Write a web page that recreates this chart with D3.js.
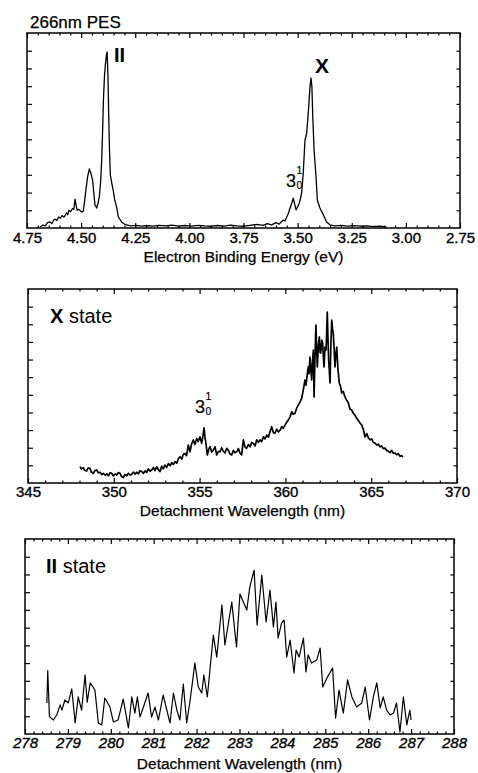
<!DOCTYPE html>
<html>
<head>
<meta charset="utf-8">
<script src="https://cdn.jsdelivr.net/npm/d3@7"></script>
<style>
body { margin: 0; background: #fff; }
svg { display: block; font-family: "Liberation Sans", Arial, Helvetica, sans-serif; }
</style>
</head>
<body>
<svg id="fig" width="478" height="773"></svg>
<script>
// --- data (intensity in arbitrary units, 0..11 = frame height) ---
const pesEnergy = [4.690, 4.676, 4.665, 4.655, 4.644, 4.635, 4.627, 4.620, 4.612, 4.604, 4.596, 4.588, 4.580, 4.575,
  4.568, 4.562, 4.556, 4.548, 4.540, 4.534, 4.528, 4.522, 4.518, 4.510, 4.502, 4.496, 4.490, 4.484, 4.478, 4.470,
  4.462, 4.455, 4.447, 4.440, 4.436, 4.428, 4.422, 4.416, 4.410, 4.405, 4.401, 4.397, 4.392, 4.388, 4.383, 4.380,
  4.376, 4.373, 4.369, 4.365, 4.358, 4.352, 4.345, 4.336, 4.328, 4.313, 4.300, 4.290,
  4.27, 4.25, 4.22, 4.20, 4.17, 4.14, 4.11, 4.08, 4.05, 4.02, 3.99, 3.96, 3.93, 3.90, 3.87, 3.84, 3.81, 3.78, 3.75,
  3.72, 3.69, 3.66, 3.64, 3.62, 3.60, 3.585, 3.575, 3.566, 3.558, 3.550, 3.542, 3.535, 3.527, 3.520, 3.513, 3.507,
  3.500, 3.492, 3.486, 3.481, 3.474, 3.466, 3.458, 3.450, 3.443, 3.438, 3.434, 3.430, 3.427, 3.424, 3.415, 3.409,
  3.397, 3.381, 3.366, 3.350, 3.33, 3.30, 3.27, 3.24, 3.21, 3.18, 3.15, 3.12, 3.09];
const pesSignal = [0.06, 0.17, 0.12, 0.30, 0.34, 0.25, 0.45, 0.50, 0.42, 0.62, 0.55, 0.70, 0.62, 0.68,
  0.85, 0.75, 1.00, 0.92, 1.10, 1.05, 1.63, 1.20, 1.00, 1.05, 0.95, 0.90, 0.96, 1.50, 2.14, 2.90,
  3.33, 3.10, 2.70, 1.80, 1.30, 1.13, 1.40, 1.75, 2.60, 3.83, 5.36, 7.22, 8.60, 9.20, 9.76, 9.93,
  8.60, 6.60, 4.40, 2.99, 2.50, 2.14, 1.60, 1.18, 0.62, 0.34, 0.22, 0.17,
  0.12, 0.15, 0.10, 0.14, 0.10, 0.15, 0.12, 0.16, 0.11, 0.14, 0.10, 0.15, 0.12, 0.10, 0.14, 0.11, 0.16, 0.12, 0.10,
  0.15, 0.20, 0.15, 0.25, 0.18, 0.30, 0.22, 0.35, 0.45, 0.40, 0.62, 0.85, 1.13, 1.40, 1.69, 1.30, 1.02,
  1.20, 1.41, 1.70, 2.03, 3.10, 4.96, 5.36, 6.65, 7.95, 8.46, 7.95, 6.26, 5.36, 4.40, 2.88, 1.58,
  1.13, 0.73, 0.34, 0.17, 0.12, 0.15, 0.10, 0.13, 0.10, 0.12, 0.08, 0.10, 0.06];
const pesTicks = [4.75, 4.50, 4.25, 4.00, 3.75, 3.50, 3.25, 3.00, 2.75];

const xWavelength = [348.03, 348.12, 348.22, 348.30, 348.42, 348.50, 348.61, 348.70, 348.81, 348.90, 349.00, 349.10,
  349.20, 349.30, 349.39, 349.50, 349.60, 349.68, 349.78, 349.88, 349.98, 350.08, 350.17, 350.27, 350.36, 350.45,
  350.55, 350.65, 350.75, 350.85, 350.95, 351.04, 351.14, 351.24, 351.33, 351.43, 351.53, 351.63, 351.73, 351.82,
  351.92, 352.02, 352.12, 352.21, 352.31, 352.40, 352.50, 352.60, 352.69, 352.79, 352.88, 352.98, 353.08, 353.18,
  353.28, 353.38, 353.47, 353.57, 353.67, 353.76, 353.86, 353.96, 354.05, 354.15, 354.24, 354.34, 354.44, 354.53,
  354.63, 354.73, 354.83, 354.92, 355.02, 355.12, 355.20, 355.26, 355.31, 355.37, 355.45, 355.53, 355.61, 355.70,
  355.80, 355.90, 356.00, 356.10, 356.19, 356.29, 356.38, 356.48, 356.58, 356.68, 356.77, 356.87, 356.97, 357.06,
  357.16, 357.26, 357.35, 357.45, 357.55, 357.64, 357.74, 357.84, 357.94, 358.03, 358.13, 358.23, 358.33, 358.42,
  358.52, 358.62, 358.72, 358.81, 358.91, 359.01, 359.10, 359.20, 359.30, 359.39, 359.49, 359.59, 359.69, 359.79,
  359.88, 359.98, 360.08, 360.17, 360.27, 360.37, 360.46, 360.56, 360.66, 360.75, 360.85, 360.95, 361.04, 361.10,
  361.14, 361.20, 361.27, 361.33, 361.38, 361.43, 361.48, 361.53, 361.58, 361.63, 361.67, 361.72, 361.78, 361.82,
  361.86, 361.92, 361.98, 362.02, 362.06, 362.12, 362.17, 362.21, 362.25, 362.31, 362.37, 362.40, 362.44, 362.48,
  362.52, 362.56, 362.60, 362.65, 362.70, 362.75, 362.79, 362.84, 362.89, 362.94, 362.99, 363.06, 363.14, 363.21,
  363.28, 363.37, 363.47, 363.57, 363.67, 363.76, 363.86, 363.96, 364.05, 364.15, 364.25, 364.35, 364.45, 364.55,
  364.64, 364.74, 364.84, 364.93, 365.03, 365.12, 365.22, 365.32, 365.42, 365.51, 365.61, 365.70, 365.80, 365.90,
  366.00, 366.09, 366.19, 366.29, 366.39, 366.48, 366.58, 366.68, 366.77, 366.85];
const xSignal = [0.92, 0.80, 0.87, 0.72, 0.68, 0.85, 0.83, 0.62, 0.55, 0.70, 0.74, 0.58,
  0.61, 0.48, 0.55, 0.44, 0.52, 0.41, 0.58, 0.55, 0.40, 0.52, 0.45, 0.60, 0.55, 0.38,
  0.30, 0.48, 0.41, 0.55, 0.44, 0.49, 0.62, 0.50, 0.61, 0.52, 0.70, 0.64, 0.55, 0.68,
  0.61, 0.80, 0.66, 0.74, 0.88, 0.70, 0.92, 0.75, 0.64, 0.95, 0.80, 1.02, 0.88, 1.10,
  0.98, 1.15, 1.05, 1.21, 1.12, 1.38, 1.49, 1.35, 1.62, 1.68, 1.55, 2.15, 1.77, 2.20,
  2.44, 2.18, 2.53, 2.35, 2.62, 2.25, 2.70, 3.13, 2.60, 2.25, 1.59, 1.90, 2.06, 1.75,
  1.87, 2.05, 1.59, 1.80, 1.77, 2.00, 1.80, 1.70, 1.97, 1.85, 1.65, 1.59, 1.85, 1.72,
  1.77, 1.95, 1.70, 1.59, 2.44, 2.05, 1.97, 2.18, 2.05, 2.30, 2.25, 2.10, 2.45, 2.30,
  2.44, 2.35, 2.62, 2.50, 2.72, 2.60, 2.90, 3.19, 2.85, 2.82, 3.05, 2.90, 3.00, 3.20,
  3.10, 3.29, 3.45, 3.57, 3.75, 4.04, 3.90, 3.95, 4.25, 4.42, 4.60, 4.80, 5.27, 5.60,
  5.84, 5.55, 6.10, 6.58, 6.20, 7.14, 6.50, 5.84, 6.90, 7.54, 4.88, 7.00, 8.96, 7.60,
  6.58, 7.80, 8.28, 7.40, 7.37, 8.10, 7.94, 7.20, 6.58, 7.70, 7.54, 8.40, 9.69, 8.20,
  6.97, 6.40, 5.67, 7.80, 9.24, 8.70, 8.50, 7.60, 6.58, 7.30, 7.71, 6.50, 5.67, 5.50,
  5.10, 5.20, 4.88, 4.70, 4.54, 4.20, 4.14, 3.95, 3.85, 3.68, 3.55, 3.40, 3.29, 3.00,
  2.61, 2.80, 2.55, 2.45, 2.50, 2.30, 2.27, 2.15, 2.20, 2.05, 2.10, 1.95, 1.98, 1.85,
  1.80, 1.72, 1.85, 1.68, 1.70, 1.60, 1.66, 1.52, 1.55, 1.47];
const xTicks = [345, 350, 355, 360, 365, 370];

const piWavelength = [278.51, 278.53, 278.57, 278.66, 278.74, 278.82, 278.86, 278.93, 279.01, 279.09, 279.17, 279.24,
  279.32, 279.40, 279.45, 279.52, 279.63, 279.71, 279.79, 279.86, 279.98, 280.06, 280.17, 280.29, 280.41, 280.49,
  280.56, 280.62, 280.68, 280.76, 280.87, 280.95, 281.03, 281.11, 281.22, 281.38, 281.46, 281.54, 281.61, 281.69,
  281.77, 281.85, 281.96, 282.04, 282.12, 282.17, 282.25, 282.39, 282.47, 282.59, 282.66, 282.82, 282.93, 283.01,
  283.17, 283.24, 283.34, 283.41, 283.52, 283.62, 283.71, 283.79, 283.85, 283.90, 283.98, 284.04, 284.10, 284.18,
  284.27, 284.32, 284.39, 284.49, 284.55, 284.60, 284.68, 284.80, 284.88, 284.94, 285.05, 285.17, 285.24, 285.32,
  285.42, 285.52, 285.62, 285.73, 285.85, 285.93, 286.03, 286.12, 286.20, 286.28, 286.35, 286.43, 286.51, 286.59,
  286.66, 286.74, 286.82, 286.90, 286.97, 287.00];
const piSignal = [1.75, 3.57, 0.98, 0.79, 1.07, 1.64, 1.35, 1.92, 1.75, 2.54, 0.62, 2.09,
  1.35, 3.33, 1.80, 2.88, 2.48, 0.62, 0.51, 2.03, 1.52, 0.68, 0.79, 1.97, 0.34, 2.09,
  1.18, 2.09, 0.96, 1.52, 2.31, 0.96, 1.52, 0.79, 2.20, 0.62, 2.31, 1.35, 0.79, 2.82,
  0.62, 1.92, 4.00, 2.65, 2.31, 3.33, 2.09, 5.58, 4.34, 7.28, 5.02, 7.44, 4.91, 7.90,
  6.99, 8.29, 9.25, 6.15, 8.97, 6.32, 8.12, 6.04, 7.44, 5.41, 6.26, 6.43, 4.34, 5.30,
  3.44, 4.74, 4.34, 5.41, 3.50, 4.46, 4.00, 4.17, 4.85, 2.65, 3.21, 3.72, 0.90, 2.48,
  1.18, 3.05, 2.09, 1.52, 1.75, 2.65, 0.79, 2.09, 2.88, 1.47, 2.09, 1.35, 1.07, 1.18,
  1.75, 0.11, 2.09, 0.51, 1.35, 0.79];
const piTicks = [278, 279, 280, 281, 282, 283, 284, 285, 286, 287, 288];

const yTicks = [1, 2, 3, 4, 5, 6, 7, 8, 9, 10];

const svg = d3.select("#fig");

function drawPanel(p) {
  const x = d3.scaleLinear().domain(p.domain).range([p.l, p.r]);
  const y = d3.scaleLinear().domain([0, 11]).range([p.b, p.t]);
  const g = svg.append("g");
  // minor ticks that don't sit on a major one
  const minor = p.minor.filter(v => !p.ticks.some(t => Math.abs(t - v) < 1e-6));

  // ticks all point inward
  const bottom = g.append("g").attr("transform", `translate(0,${p.b})`)
    .call(d3.axisBottom(x).tickValues(p.ticks).tickSize(-5).tickPadding(p.pad).tickFormat(p.fmt));
  g.append("g").attr("class", "nolab").attr("transform", `translate(0,${p.b})`)
    .call(d3.axisBottom(x).tickValues(minor).tickSize(-2.5));
  g.append("g").attr("class", "nolab").attr("transform", `translate(0,${p.t})`)
    .call(d3.axisTop(x).tickValues(p.ticks).tickSize(-5));
  g.append("g").attr("class", "nolab").attr("transform", `translate(0,${p.t})`)
    .call(d3.axisTop(x).tickValues(minor).tickSize(-2.5));
  g.append("g").attr("class", "nolab").attr("transform", `translate(${p.l},0)`)
    .call(d3.axisLeft(y).tickValues(yTicks).tickSize(-5));
  g.append("g").attr("class", "nolab").attr("transform", `translate(${p.r},0)`)
    .call(d3.axisRight(y).tickValues(yTicks).tickSize(-3.5));

  g.selectAll(".nolab text").remove();
  g.selectAll(".domain").remove();
  g.selectAll(".tick line").attr("stroke", "#000").attr("stroke-width", 1.2);
  bottom.selectAll("text")
    .attr("fill", "#000")
    .attr("stroke", "#000")
    .attr("stroke-width", 0.35)
    .style("font-size", "15px")
    .style("font-family", '"Liberation Sans", Arial, sans-serif')
    .style("font-style", p.italic ? "italic" : "normal");

  g.append("rect")
    .attr("x", p.l).attr("y", p.t)
    .attr("width", p.r - p.l).attr("height", p.b - p.t)
    .attr("fill", "none").attr("stroke", "#000").attr("stroke-width", 1.5);

  g.append("path")
    .datum(d3.zip(p.xs, p.ys))
    .attr("fill", "none")
    .attr("stroke", "#000")
    .attr("stroke-width", p.lw)
    .attr("stroke-linejoin", "round")
    .attr("d", d3.line().x(d => x(d[0])).y(d => y(d[1])));

  g.append("text")
    .attr("x", (p.l + p.r) / 2).attr("y", p.titleY)
    .attr("text-anchor", "middle")
    .attr("stroke", "#000").attr("stroke-width", 0.25)
    .style("font-size", "15.5px")
    .text(p.title);
  return g;
}

drawPanel({
  l: 27, r: 460, t: 33, b: 228, domain: [4.75, 2.75],
  ticks: pesTicks, minor: d3.range(2.80, 4.75, 0.05), fmt: d3.format(".2f"), pad: 4.5,
  xs: pesEnergy, ys: pesSignal, lw: 1.3,
  title: "Electron Binding Energy (eV)", titleY: 262
});
drawPanel({
  l: 28, r: 457, t: 289, b: 483, domain: [345, 370],
  ticks: xTicks, minor: d3.range(346, 370, 1), fmt: d3.format("d"), pad: 3.6,
  xs: xWavelength, ys: xSignal, lw: 1.7,
  title: "Detachment Wavelength (nm)", titleY: 515.5
});
drawPanel({
  l: 25, r: 454, t: 539, b: 734, domain: [278, 288],
  ticks: piTicks, minor: d3.range(278.2, 288, 0.2), fmt: d3.format("d"), pad: 3.3, italic: true,
  xs: piWavelength, ys: piSignal, lw: 1.2,
  title: "Detachment Wavelength (nm)", titleY: 769
});

// annotations
svg.append("text").attr("x", 30).attr("y", 28).attr("stroke", "#000").attr("stroke-width", 0.25)
  .style("font-size", "17px").text("266nm PES");
svg.append("text").attr("x", 114).attr("y", 62).style("font-size", "20px").style("font-weight", "bold").text("II");
svg.append("text").attr("x", 315).attr("y", 73).style("font-size", "21px").style("font-weight", "bold").text("X");

function vib(xp, yp, size) {
  const t = svg.append("g").attr("stroke", "#000").attr("stroke-width", 0.2);
  t.append("text").attr("x", xp).attr("y", yp).style("font-size", size + "px").text("3");
  t.append("text").attr("x", xp + size * 0.58).attr("y", yp - size * 0.72).style("font-size", (size * 0.58) + "px").text("1");
  t.append("text").attr("x", xp + size * 0.58).attr("y", yp + size * 0.12).style("font-size", (size * 0.58) + "px").text("0");
}
vib(286, 187, 18);
vib(195, 413, 18);

const xs = svg.append("text").attr("x", 50).attr("y", 323).style("font-size", "20px");
xs.append("tspan").style("font-weight", "bold").text("X");
xs.append("tspan").text(" state");
const ps = svg.append("text").attr("x", 46).attr("y", 573).style("font-size", "20px");
ps.append("tspan").style("font-weight", "bold").text("II");
ps.append("tspan").text(" state");
</script>
</body>
</html>
